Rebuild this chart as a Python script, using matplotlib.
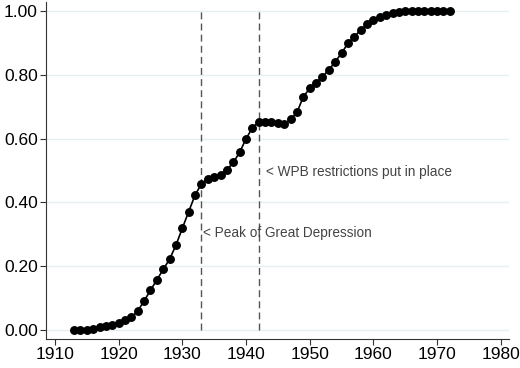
import matplotlib
matplotlib.use("Agg")
import matplotlib.pyplot as plt
import numpy as np

# --- Data ---
years = np.arange(1913, 1973)
share = [
    0.000, 0.000, 0.000, 0.002, 0.010, 0.013, 0.016, 0.023, 0.031, 0.040,  # 1913-1922
    0.060, 0.091, 0.125, 0.157, 0.190, 0.222, 0.266, 0.319, 0.371, 0.423,  # 1923-1932
    0.458, 0.472, 0.479, 0.486, 0.502, 0.525, 0.557, 0.599, 0.634, 0.653,  # 1933-1942
    0.652, 0.651, 0.650, 0.645, 0.660, 0.682, 0.731, 0.757, 0.775, 0.794,  # 1943-1952
    0.815, 0.841, 0.867, 0.899, 0.919, 0.940, 0.958, 0.972, 0.982, 0.987,  # 1953-1962
    0.993, 0.997, 0.999, 1.000, 1.000, 1.000, 1.000, 1.000, 1.000, 1.000,  # 1963-1972
]
events = [1933, 1942]
event_labels = ["< Peak of Great Depression", "< WPB restrictions put in place"]
event_label_x = [1933.2, 1943.2]
event_label_y = [0.305, 0.495]

plt.rcParams["font.family"] = ["Liberation Sans", "DejaVu Sans"]

# --- Plot ---
fig = plt.figure(figsize=(5.2, 3.68), dpi=100)
ax = fig.add_axes([0.0885, 0.0788, 0.8905, 0.916])

ax.set_xlim(1908.6, 1981.3)
ax.set_ylim(-0.028, 1.028)

ax.set_yticks([0, 0.2, 0.4, 0.6, 0.8, 1.0])
ax.yaxis.grid(True, color="#e6eff0", linewidth=1.0)
ax.set_axisbelow(True)

for yr in events:
    ax.plot([yr, yr], [0, 1], color="#555555", linestyle=(0, (5, 3)), linewidth=1.0)

ax.plot(years, share, color="black", linewidth=1.2, marker="o", markersize=5.4)

for lx, lab, ly in zip(event_label_x, event_labels, event_label_y):
    ax.text(lx, ly, lab, fontsize=9.8, color="#444444", va="center", ha="left")

ax.set_xticks(np.arange(1910, 1981, 10))
ax.yaxis.set_major_formatter(matplotlib.ticker.FormatStrFormatter("%.2f"))
ax.tick_params(labelsize=12.5, length=4, width=0.8, color="#333333", pad=2)

# --- Styling ---
ax.spines["top"].set_visible(False)
ax.spines["right"].set_visible(False)
for s in ("left", "bottom"):
    ax.spines[s].set_linewidth(0.8)
    ax.spines[s].set_color("#333333")

fig.savefig("out.png", dpi=100)
